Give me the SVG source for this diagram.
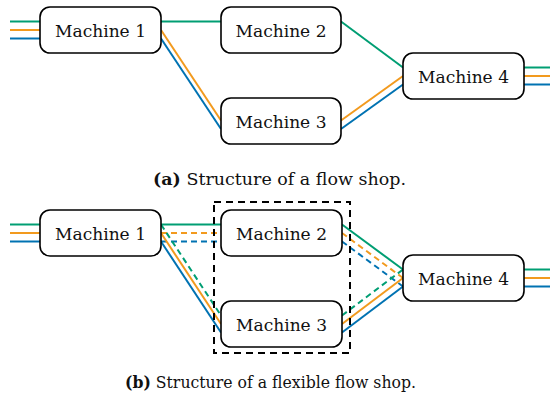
<svg xmlns="http://www.w3.org/2000/svg" width="550" height="399" viewBox="0 0 550 399">
  <style>
    .box { fill: #ffffff; stroke: #000000; stroke-width: 1.6; }
    .lbl { font-family: "DejaVu Serif", "Liberation Serif", serif; font-size: 17px; fill: #111111; text-anchor: middle; }
    .cap { font-family: "DejaVu Serif", "Liberation Serif", serif; font-size: 17px; fill: #111111; text-anchor: middle; }
    .g { stroke: #009E73; stroke-width: 2; fill: none; }
    .o { stroke: #F29A1E; stroke-width: 2; fill: none; }
    .b { stroke: #0072B2; stroke-width: 2; fill: none; }
    .dash { stroke-dasharray: 6 4; }
    .group { fill: none; stroke: #000000; stroke-width: 2; stroke-dasharray: 7 5; }
  </style>

  <!-- (a) flow shop: connectors -->
  <g id="connectors-a">
    <line class="g" x1="10" y1="21.5" x2="40" y2="21.5"/>
    <line class="o" x1="10" y1="30" x2="40" y2="30"/>
    <line class="b" x1="10" y1="38.5" x2="40" y2="38.5"/>
    <line class="g" x1="161" y1="21.5" x2="221" y2="21.5"/>
    <line class="o" x1="161" y1="30" x2="221" y2="120.5"/>
    <line class="b" x1="161" y1="38.5" x2="221" y2="129"/>
    <line class="g" x1="341" y1="21.5" x2="403" y2="67.5"/>
    <line class="o" x1="341" y1="120.5" x2="403" y2="76"/>
    <line class="b" x1="341" y1="129" x2="403" y2="84.5"/>
    <line class="g" x1="524" y1="67.5" x2="550" y2="67.5"/>
    <line class="o" x1="524" y1="76" x2="550" y2="76"/>
    <line class="b" x1="524" y1="84.5" x2="550" y2="84.5"/>
  </g>

  <g id="a-machine1">
    <rect class="box" x="40" y="7" width="121" height="46" rx="10"/>
    <text class="lbl" x="100.5" y="37" textLength="91" lengthAdjust="spacingAndGlyphs">Machine 1</text>
  </g>
  <g id="a-machine2">
    <rect class="box" x="221" y="7" width="120" height="46" rx="10"/>
    <text class="lbl" x="281" y="37" textLength="91" lengthAdjust="spacingAndGlyphs">Machine 2</text>
  </g>
  <g id="a-machine3">
    <rect class="box" x="221" y="98" width="120" height="46" rx="10"/>
    <text class="lbl" x="281" y="128" textLength="91" lengthAdjust="spacingAndGlyphs">Machine 3</text>
  </g>
  <g id="a-machine4">
    <rect class="box" x="403" y="53" width="121" height="46" rx="10"/>
    <text class="lbl" x="463.5" y="83" textLength="91" lengthAdjust="spacingAndGlyphs">Machine 4</text>
  </g>

  <text class="cap" x="279.5" y="185" textLength="253" lengthAdjust="spacingAndGlyphs"><tspan font-weight="bold">(a)</tspan> Structure of a flow shop.</text>

  <!-- (b) flexible flow shop: connectors -->
  <g id="connectors-b">
    <line class="g" x1="10" y1="224.5" x2="40" y2="224.5"/>
    <line class="o" x1="10" y1="233" x2="40" y2="233"/>
    <line class="b" x1="10" y1="241.5" x2="40" y2="241.5"/>
    <line class="g" x1="161" y1="224.5" x2="221" y2="224.5"/>
    <line class="o dash" x1="161" y1="233" x2="221" y2="233"/>
    <line class="b dash" x1="161" y1="241.5" x2="221" y2="241.5"/>
    <line class="g dash" x1="161" y1="224.5" x2="221" y2="315.5"/>
    <line class="o" x1="161" y1="233" x2="221" y2="324"/>
    <line class="b" x1="161" y1="241.5" x2="221" y2="332.5"/>
    <line class="g" x1="342" y1="224.5" x2="403" y2="269.5"/>
    <line class="o dash" x1="342" y1="233" x2="403" y2="278"/>
    <line class="b dash" x1="342" y1="241.5" x2="403" y2="286.5"/>
    <line class="g dash" x1="342" y1="315.5" x2="403" y2="269.5"/>
    <line class="o" x1="342" y1="324" x2="403" y2="278"/>
    <line class="b" x1="342" y1="332.5" x2="403" y2="286.5"/>
    <line class="g" x1="524" y1="269.5" x2="550" y2="269.5"/>
    <line class="o" x1="524" y1="278" x2="550" y2="278"/>
    <line class="b" x1="524" y1="286.5" x2="550" y2="286.5"/>
  </g>

  <g id="b-stage">
    <rect class="group" x="214" y="202" width="136" height="151"/>
  </g>
  <g id="b-machine1">
    <rect class="box" x="40" y="210" width="121" height="46" rx="10"/>
    <text class="lbl" x="100.5" y="240" textLength="91" lengthAdjust="spacingAndGlyphs">Machine 1</text>
  </g>
  <g id="b-machine2">
    <rect class="box" x="221" y="210" width="121" height="46" rx="10"/>
    <text class="lbl" x="281.5" y="240" textLength="91" lengthAdjust="spacingAndGlyphs">Machine 2</text>
  </g>
  <g id="b-machine3">
    <rect class="box" x="221" y="301" width="121" height="46" rx="10"/>
    <text class="lbl" x="281.5" y="331" textLength="91" lengthAdjust="spacingAndGlyphs">Machine 3</text>
  </g>
  <g id="b-machine4">
    <rect class="box" x="403" y="255" width="121" height="46" rx="10"/>
    <text class="lbl" x="463.5" y="285" textLength="91" lengthAdjust="spacingAndGlyphs">Machine 4</text>
  </g>

  <text class="cap" x="270.5" y="388" textLength="291" lengthAdjust="spacingAndGlyphs"><tspan font-weight="bold">(b)</tspan> Structure of a flexible flow shop.</text>
</svg>
